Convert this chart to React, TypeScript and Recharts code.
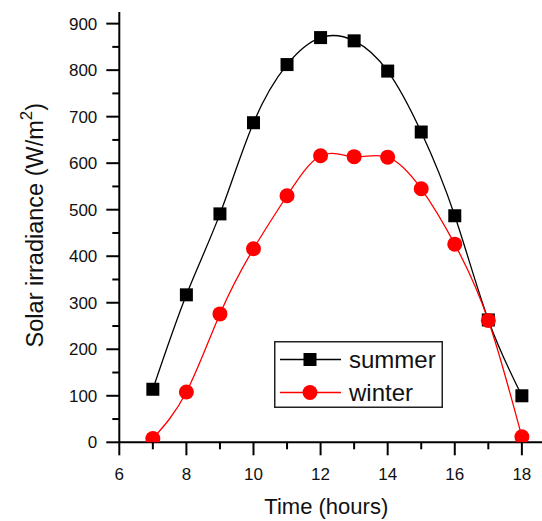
import React from 'react';
import { LineChart, Line, XAxis, YAxis, Legend, Label } from 'recharts';

// 시간대별 일사량 (summer / winter)
const HOURS = [7, 8, 9, 10, 11, 12, 13, 14, 15, 16, 17, 18];
const SUMMER = [114, 317, 491, 687, 812, 870, 863, 798, 667, 487, 263, 100];
const WINTER = [8, 108, 276, 416, 530, 616, 614, 613, 545, 426, 262, 12];

const X_TICKS = [6, 7, 8, 9, 10, 11, 12, 13, 14, 15, 16, 17, 18];
const Y_TICKS = [0, 50, 100, 150, 200, 250, 300, 350, 400, 450, 500, 550, 600, 650, 700, 750, 800, 850, 900];

const SERIES_NAMES = ['summer', 'winter'];
const SERIES_COLORS = ['#000000', '#ff0000'];

const FONT = '"Liberation Sans", Arial, sans-serif';

const data = HOURS.map((h, i) => ({ hour: h, summer: SUMMER[i], winter: WINTER[i] }));

function XTick({ x, y, payload }: any) {
  const major = payload.value % 2 === 0;
  return (
    <g>
      <line x1={x} x2={x} y1={y} y2={y + (major ? 13 : 7)} stroke="#000" strokeWidth={2} />
      {major && (
        <text x={x} y={y + 38} textAnchor="middle" fontSize={17} fontFamily={FONT} fill="#111">
          {payload.value}
        </text>
      )}
    </g>
  );
}

function YTick({ x, y, payload }: any) {
  const major = payload.value % 100 === 0;
  return (
    <g>
      <line x1={x - (major ? 13 : 7)} x2={x} y1={y} y2={y} stroke="#000" strokeWidth={2} />
      {major && (
        <text x={x - 22} y={y + 6} textAnchor="end" fontSize={17} fontFamily={FONT} fill="#111">
          {payload.value}
        </text>
      )}
    </g>
  );
}

function XLabel({ viewBox }: any) {
  const { x, y } = viewBox;
  return (
    <text x={x + 207} y={y + 72} textAnchor="middle" fontSize={22} fontFamily={FONT} fill="#111">
      Time (hours)
    </text>
  );
}

function YLabel({ viewBox }: any) {
  const { x, y, height } = viewBox;
  const cx = x + 24;
  const cy = y + height / 2 - 2;
  return (
    <text x={cx} y={cy} transform={`rotate(-90, ${cx}, ${cy})`} textAnchor="middle" fontSize={23.5} fontFamily={FONT} fill="#111">
      Solar irradiance (W/m
      <tspan fontSize={17} dy={-11}>2</tspan>
      <tspan dy={11}>)</tspan>
    </text>
  );
}

function SquareDot(p: any) {
  return <rect key={`s-${p.index}`} x={p.cx - 6.5} y={p.cy - 6.5} width={13} height={13} fill="#000" />;
}

function CircleDot(p: any) {
  return <circle key={`w-${p.index}`} cx={p.cx} cy={p.cy} r={7.5} fill="#ff0000" />;
}

function LegendBox({ payload }: any) {
  const items = (payload ?? []).map((e: any, i: number) => ({ name: e.value, color: e.color, i }));
  return (
    <svg width={169} height={67} style={{ display: 'block' }}>
      <rect x={0.75} y={0.75} width={167.5} height={65.5} fill="#fff" stroke="#222" strokeWidth={1.5} />
      {items.map((it: any) => {
        const cy = 18.5 + it.i * 33;
        return (
          <g key={it.name}>
            <line x1={6} x2={67} y1={cy} y2={cy} stroke={it.color} strokeWidth={1.3} />
            {it.i === 0 ? (
              <rect x={36 - 6.5} y={cy - 6.5} width={13} height={13} fill={it.color} />
            ) : (
              <circle cx={36} cy={cy} r={7.5} fill={it.color} />
            )}
            <text x={75} y={cy + 8} fontSize={24} fontFamily={FONT} fill="#111">
              {it.name}
            </text>
          </g>
        );
      })}
    </svg>
  );
}

export default function App() {
  return (
    <div style={{ position: 'absolute', left: 0, top: 0, width: 542, height: 521, background: '#fff' }}>
      <LineChart width={542} height={521} data={data} margin={{ top: 12, right: 0, bottom: 18.7, left: 19.3 }}>
        <XAxis
          type="number"
          dataKey="hour"
          domain={[6, 18.6]}
          ticks={X_TICKS}
          interval={0}
          height={60}
          tickSize={0}
          tickMargin={0}
          tickLine={false}
          axisLine={{ stroke: '#000', strokeWidth: 2 }}
          tick={<XTick />}
          allowDataOverflow
        >
          <Label content={<XLabel />} />
        </XAxis>
        <YAxis
          type="number"
          domain={[0, 925]}
          ticks={Y_TICKS}
          interval={0}
          width={100}
          tickSize={0}
          tickMargin={0}
          tickLine={false}
          axisLine={{ stroke: '#000', strokeWidth: 2 }}
          tick={<YTick />}
          allowDataOverflow
        >
          <Label content={<YLabel />} />
        </YAxis>
        <Legend
          layout="vertical"
          align="center"
          verticalAlign="middle"
          content={<LegendBox />}
          wrapperStyle={{ left: 274, top: 341, width: 169, height: 67 }}
        />
        <Line
          type="natural"
          dataKey="summer"
          name={SERIES_NAMES[0]}
          stroke={SERIES_COLORS[0]}
          strokeWidth={1.3}
          dot={SquareDot}
          activeDot={false}
          isAnimationActive={false}
        />
        <Line
          type="natural"
          dataKey="winter"
          name={SERIES_NAMES[1]}
          stroke={SERIES_COLORS[1]}
          strokeWidth={1.3}
          dot={CircleDot}
          activeDot={false}
          isAnimationActive={false}
        />
      </LineChart>
    </div>
  );
}
